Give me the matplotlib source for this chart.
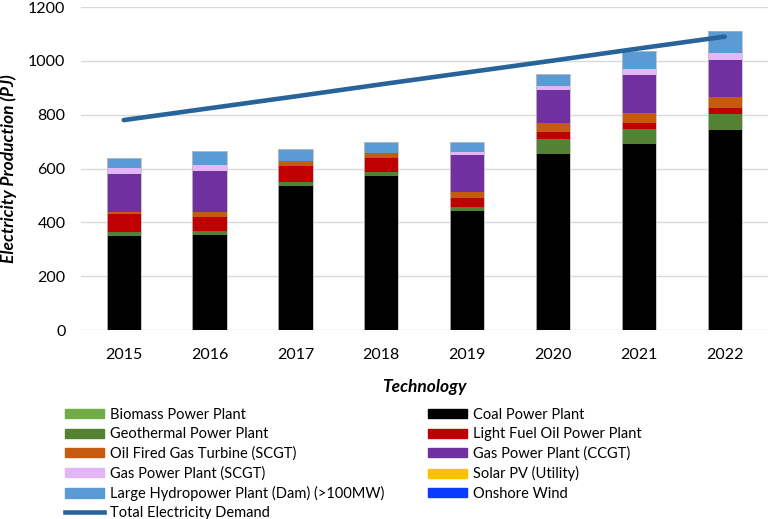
"""Stacked electricity production by technology with total demand line."""

import matplotlib

matplotlib.use("Agg")
import matplotlib.pyplot as plt
import numpy as np
from matplotlib.lines import Line2D
from matplotlib.patches import Patch

plt.rcParams["font.family"] = ["Lato", "DejaVu Sans"]

years = ["2015", "2016", "2017", "2018", "2019", "2020", "2021", "2022"]

# production per technology (PJ)
coal = [349, 354, 536, 573, 443, 655, 690, 744]
biomass = [0, 0, 0, 0, 0, 0, 0, 0]
geothermal = [16, 15, 14, 14, 15, 56, 57, 60]
light_fuel_oil = [68, 52, 60, 54, 33, 25, 23, 22]
oil_gas_turbine = [5, 17, 17, 18, 23, 32, 36, 40]
gas_ccgt = [142, 154, 0, 0, 136, 122, 140, 138]
gas_scgt = [21, 21, 0, 0, 11, 16, 24, 24]
large_hydro = [38, 51, 45, 41, 37, 45, 66, 81]
solar_pv = [0, 0, 0, 0, 0, 0, 0, 0]
onshore_wind = [0, 1, 0, 0, 2, 2, 1, 2]
total_demand = [780, 824, 868, 913, 957, 1001, 1046, 1090]

# stacking order bottom -> top: (label, values, colour)
stack = [
    ("Coal Power Plant", coal, "#000000"),
    ("Biomass Power Plant", biomass, "#70AD47"),
    ("Geothermal Power Plant", geothermal, "#548235"),
    ("Light Fuel Oil Power Plant", light_fuel_oil, "#C00000"),
    ("Oil Fired Gas Turbine (SCGT)", oil_gas_turbine, "#C55A11"),
    ("Gas Power Plant (CCGT)", gas_ccgt, "#7030A0"),
    ("Gas Power Plant (SCGT)", gas_scgt, "#E3B6F7"),
    ("Large Hydropower Plant (Dam) (>100MW)", large_hydro, "#5B9BD5"),
    ("Solar PV (Utility)", solar_pv, "#FFC000"),
    ("Onshore Wind", onshore_wind, "#0A3BFF"),
]
colors = {name: c for name, _, c in stack}

fig = plt.figure(figsize=(7.77, 5.19), dpi=100)
ax = fig.add_axes([0.104, 0.364, 0.884, 0.6225])

x = np.arange(len(years))
bottom = np.zeros(len(years))
for name, vals, c in stack:
    vals = np.asarray(vals, dtype=float)
    ax.bar(x, vals, 0.4, bottom=bottom, color=c, edgecolor="none", zorder=2)
    bottom += vals
# faint outline around the full bars
ax.bar(x, bottom, 0.4, fill=False, edgecolor="#BFBFBF", linewidth=0.6, zorder=3)

ax.plot(x, total_demand, color="#28649A", lw=3.3, solid_capstyle="round", zorder=4)

ax.set_xlim(-0.5, 7.5)
ax.set_ylim(0, 1200)
ax.set_yticks(range(0, 1201, 200))
ax.set_xticks(x)
ax.set_xticklabels(years)
ax.grid(axis="y", color="#D9D9D9", lw=1.0, zorder=0)
ax.set_axisbelow(True)
for s in ax.spines.values():
    s.set_visible(False)
ax.tick_params(axis="both", length=0, labelsize=11.5, colors="#000000")
ax.tick_params(axis="y", pad=11)
ax.tick_params(axis="x", pad=13)
ax.set_ylabel("Electricity Production (PJ)", fontsize=12.5, fontweight="bold",
              fontstyle="italic", labelpad=8)
ax.set_xlabel("Technology", fontsize=12.5, fontweight="bold",
              fontstyle="italic", labelpad=12)

left_names = ["Biomass Power Plant", "Geothermal Power Plant",
              "Oil Fired Gas Turbine (SCGT)", "Gas Power Plant (SCGT)",
              "Large Hydropower Plant (Dam) (>100MW)"]
right_names = ["Coal Power Plant", "Light Fuel Oil Power Plant",
               "Gas Power Plant (CCGT)", "Solar PV (Utility)", "Onshore Wind"]

left_handles = [Patch(color=colors[n], label=n) for n in left_names]
left_handles.append(Line2D([], [], color="#28649A", lw=3.3,
                           label="Total Electricity Demand"))
right_handles = [Patch(color=colors[n], label=n) for n in right_names]

leg_kw = dict(loc="upper left", frameon=False, fontsize=10.5, handlelength=2.7,
              handleheight=0.6, handletextpad=0.4, labelspacing=0.365,
              borderaxespad=0, borderpad=0)
fig.legend(handles=left_handles, bbox_to_anchor=(65 / 777, 1 - 408 / 519), **leg_kw)
fig.legend(handles=right_handles, bbox_to_anchor=(428 / 777, 1 - 408 / 519), **leg_kw)

fig.savefig("out.png", dpi=100)
